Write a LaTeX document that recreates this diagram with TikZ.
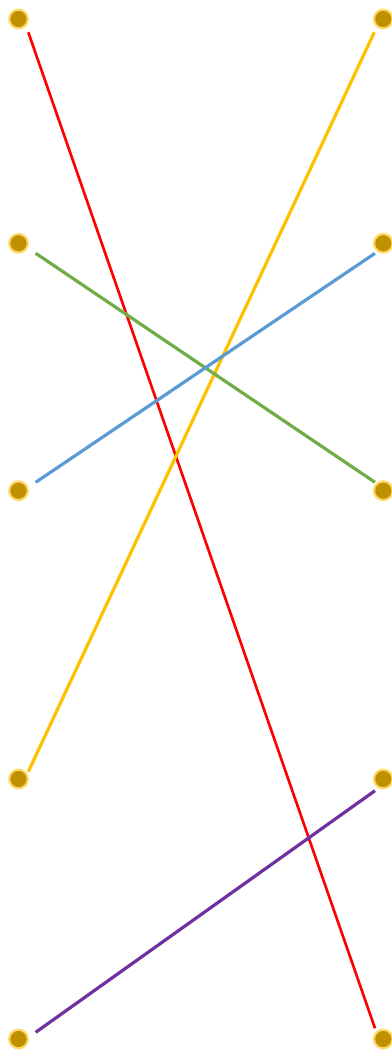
\documentclass[tikz,border=0pt]{standalone}
\usepackage{tikz}
\usetikzlibrary{calc}
\definecolor{dotgold}{HTML}{BF9000}
\definecolor{dotring}{HTML}{FFD966}
\definecolor{wirered}{HTML}{FF0000}
\definecolor{wireyellow}{HTML}{FFC000}
\definecolor{wiregreen}{HTML}{70AD47}
\definecolor{wireblue}{HTML}{5B9BD5}
\definecolor{wirepurple}{HTML}{7030A0}

\begin{document}
\begin{tikzpicture}[
      x=0.75pt,y=-0.75pt,
      dot/.style={circle,fill=dotgold,draw=dotring,line width=1.6pt,
                  minimum size=14pt,inner sep=0pt},
      wire/.style={line width=2.4pt}]
    \useasboundingbox (0,0) rectangle (392,1053);
    % left column
    \node[dot] (l1) at (18.5,19)    {};
    \node[dot] (l2) at (18.5,243.3) {};
    \node[dot] (l3) at (18.5,490.7) {};
    \node[dot] (l4) at (18.5,779)   {};
    \node[dot] (l5) at (18.5,1039)  {};
    % right column
    \node[dot] (r1) at (383.3,19)    {};
    \node[dot] (r2) at (383.3,243.3) {};
    \node[dot] (r3) at (383.3,490.7) {};
    \node[dot] (r4) at (383.3,779)   {};
    \node[dot] (r5) at (383.3,1039)  {};
    % matching lines
    \draw[wire,wirered,line width=2pt] ($(l1)+(9.8,13.3)$) -- ($(r5)+(-8.3,-10.7)$);
    \draw[wire,wireyellow] ($(l4)+(9.8,-7.3)$) -- ($(r1)+(-9,13.3)$);
    \draw[wire,wiregreen]  ($(l2)+(17.2,10)$) -- ($(r3)+(-8.3,-8.4)$);
    \draw[wire,wireblue]   ($(l3)+(17.2,-8.4)$) -- ($(r2)+(-8.3,10)$);
    \draw[wire,wirepurple] ($(l5)+(17.2,-6.7)$) -- ($(r4)+(-8.3,11.7)$);
  \end{tikzpicture}
\end{document}
